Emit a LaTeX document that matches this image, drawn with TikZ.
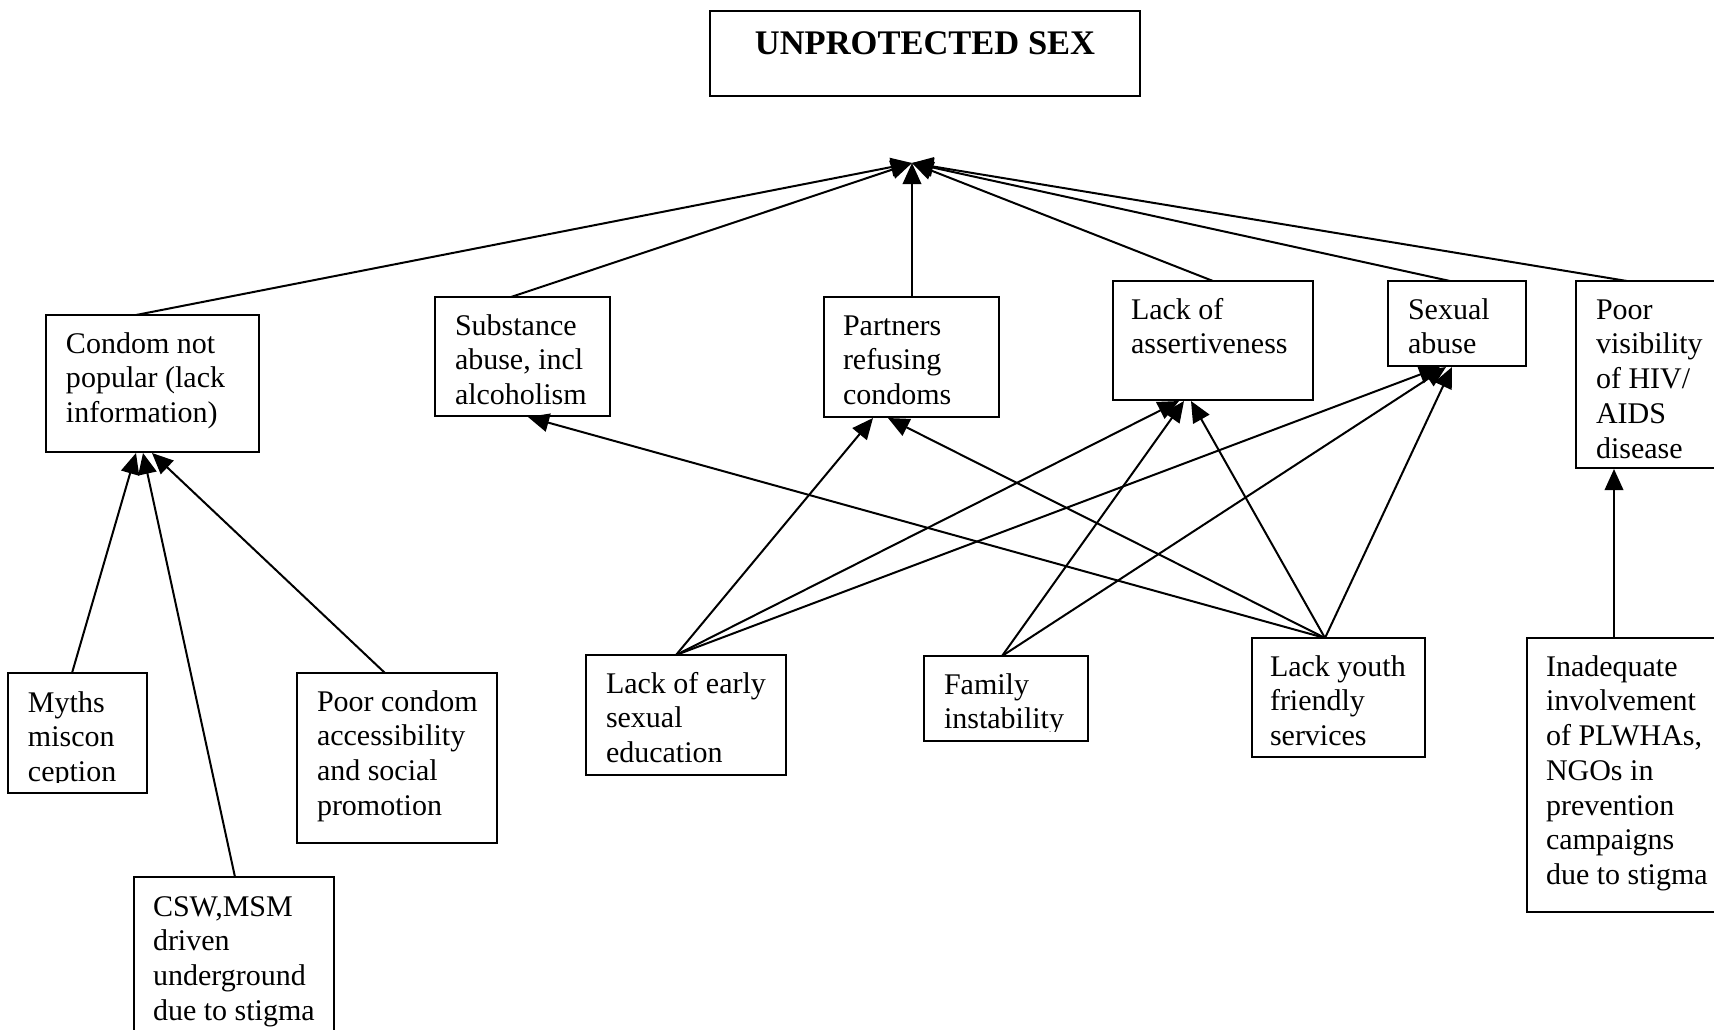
\documentclass[tikz,border=0pt]{standalone}
\usepackage{fontspec}
\setmainfont{Liberation Serif}
\usetikzlibrary{arrows.meta}
\newcommand{\bt}[1]{\begin{tabular}[t]{@{}l@{}}#1\end{tabular}}
\newcommand{\mkbox}[5]{\node[box, minimum width={(#4-#2)*0.4pt}, minimum height={(#5-#3)*0.4pt}] (#1) at (#2,#3) {};}
\begin{document}
\begin{tikzpicture}[x=0.4pt,y=-0.4pt,
  box/.style={draw, line width=0.8pt, inner sep=0pt, outer sep=0pt, anchor=north west},
  txt/.style={inner sep=0pt, outer sep=0pt, anchor=base west, font=\fontsize{12}{13.9}\selectfont},
  arr/.style={line width=0.8pt, -{Triangle[length=8.4pt,width=7.4pt]}}]
\useasboundingbox (0,0) rectangle (1714,1029);
\fill[white] (0,0) rectangle (1714,1029);
\clip (0,0) rectangle (1714,1029);
% boxes
\mkbox{title}{710}{11}{1140}{96}
\mkbox{cnp}{46}{315}{259}{452}
\mkbox{sub}{435}{297}{610}{416}
\mkbox{par}{824}{297}{999}{417}
\mkbox{ass}{1113}{281}{1313}{400}
\mkbox{sab}{1388}{281}{1526}{366}
\mkbox{pvis}{1576}{281}{1722}{468}
\mkbox{myth}{8}{673}{147}{793}
\mkbox{pca}{297}{673}{497}{843}
\mkbox{csw}{134}{877}{334}{1045}
\mkbox{lese}{586}{655}{786}{775}
\mkbox{fam}{924}{656}{1088}{741}
\mkbox{lyfs}{1252}{638}{1425}{757}
\mkbox{inad}{1527}{638}{1722}{912}
% texts
\node[inner sep=0pt, anchor=base, font=\bfseries\fontsize{13.8}{16}\selectfont] (titleT) at (925,54) {UNPROTECTED SEX};
\node[txt] (cnpT) at ([shift={(20,38)}]cnp.north west) {\bt{Condom not\\popular (lack\\information)}};
\node[txt] (subT) at ([shift={(20,38)}]sub.north west) {\bt{Substance\\abuse, incl\\alcoholism}};
\node[txt] (parT) at ([shift={(19,38)}]par.north west) {\bt{Partners\\refusing\\condoms}};
\node[txt] (assT) at ([shift={(18,38)}]ass.north west) {\bt{Lack of\\assertiveness}};
\node[txt] (sabT) at ([shift={(20,38)}]sab.north west) {\bt{Sexual\\abuse}};
\node[txt] (pvisT) at ([shift={(20,38)}]pvis.north west) {\bt{Poor\\visibility\\of HIV/\\AIDS\\disease}};
\begin{scope}
\clip (8,673) rectangle (147,782);
\node[txt] (mythT) at ([shift={(20,39)}]myth.north west) {\bt{Myths\\miscon\\ception}};
\end{scope}
\node[txt] (pcaT) at ([shift={(20,38)}]pca.north west) {\bt{Poor condom\\accessibility\\and social\\promotion}};
\node[txt] (cswT) at ([shift={(19,39)}]csw.north west) {\bt{CSW,MSM\\driven\\underground\\due to stigma}};
\node[txt] (leseT) at ([shift={(20,38)}]lese.north west) {\bt{Lack of early\\sexual\\education}};
\begin{scope}
\clip (924,656) rectangle (1088,731);
\node[txt] (famT) at ([shift={(20,38)}]fam.north west) {\bt{Family\\instability}};
\end{scope}
\node[txt] (lyfsT) at ([shift={(18,38)}]lyfs.north west) {\bt{Lack youth\\friendly\\services}};
\node[txt] (inadT) at ([shift={(19,38)}]inad.north west) {\bt{Inadequate\\involvement\\of PLWHAs,\\NGOs in\\prevention\\campaigns\\due to stigma}};
% hub
\coordinate (hub) at (912,163);
\draw[arr] ([shift={(90,0)}]cnp.north west) -- (hub);
\draw[arr] ([shift={(76,0)}]sub.north west) -- (hub);
\draw[arr] ([shift={(88,0)}]par.north west) -- (hub);
\draw[arr] ([shift={(100,0)}]ass.north west) -- (hub);
\draw[arr] ([shift={(62,0)}]sab.north west) -- (hub);
\draw[arr] ([shift={(51,0)}]pvis.north west) -- (hub);
% lower arrows
\draw[arr] ([shift={(64,0)}]myth.north west) -- ([shift={(90,1)}]cnp.south west);
\draw[arr] ([shift={(101,0)}]csw.north west) -- ([shift={(97,1)}]cnp.south west);
\draw[arr] ([shift={(88,0)}]pca.north west) -- ([shift={(106,1)}]cnp.south west);
\draw[arr] ([shift={(73,0)}]lyfs.north west) -- ([shift={(93,1)}]sub.south west);
\draw[arr] ([shift={(90,0)}]lese.north west) -- ([shift={(49,1)}]par.south west);
\draw[arr] ([shift={(73,0)}]lyfs.north west) -- ([shift={(64,1)}]par.south west);
\draw[arr] ([shift={(90,0)}]lese.north west) -- ([shift={(66,1)}]ass.south west);
\draw[arr] ([shift={(78,0)}]fam.north west) -- ([shift={(71,1)}]ass.south west);
\draw[arr] ([shift={(73,0)}]lyfs.north west) -- ([shift={(78,1)}]ass.south west);
\draw[arr] ([shift={(90,0)}]lese.north west) -- ([shift={(52,1)}]sab.south west);
\draw[arr] ([shift={(78,0)}]fam.north west) -- ([shift={(58,1)}]sab.south west);
\draw[arr] ([shift={(73,0)}]lyfs.north west) -- ([shift={(64,1)}]sab.south west);
\draw[arr] ([shift={(87,0)}]inad.north west) -- ([shift={(38,1)}]pvis.south west);
\end{tikzpicture}
\end{document}
